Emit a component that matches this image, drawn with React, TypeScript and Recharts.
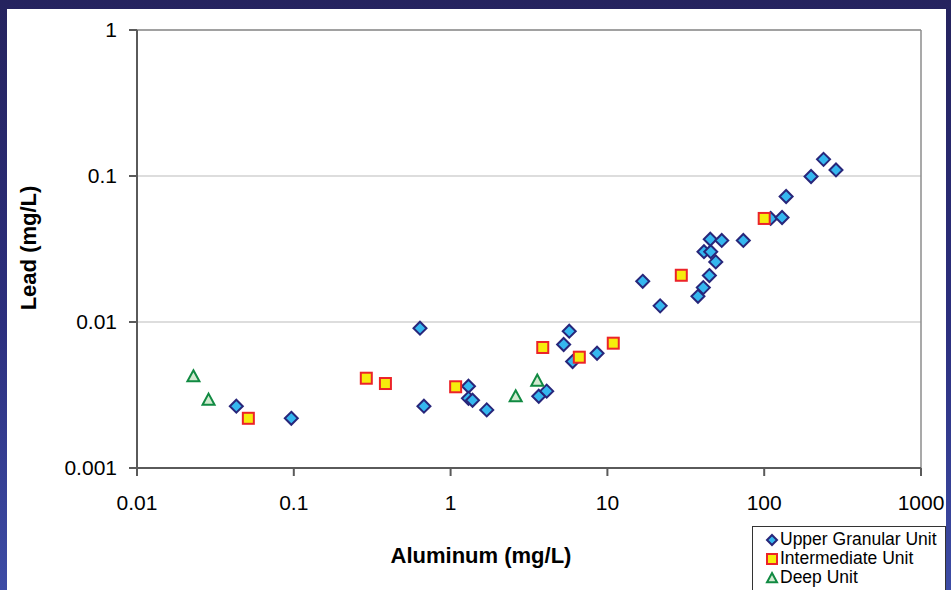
import React from 'react';
import { ScatterChart, Scatter, XAxis, YAxis, CartesianGrid, ReferenceLine, Label } from 'recharts';

// Aluminum (mg/L) vs Lead (mg/L)
const upperAl = [0.043, 0.0964, 0.638, 0.676, 1.3, 1.3, 1.38, 1.7, 3.65, 4.1, 5.71, 5.26, 6.0, 8.59, 16.8, 21.7, 37.8, 40.9, 44.7, 49.1, 41.3, 45.6, 45.3, 53.6, 73.6, 110, 130, 138, 199, 239, 287];
const upperPb = [0.00265, 0.00219, 0.00907, 0.00265, 0.00363, 0.003, 0.00291, 0.0025, 0.0031, 0.00336, 0.00865, 0.00701, 0.00536, 0.00611, 0.019, 0.0129, 0.015, 0.0172, 0.0208, 0.0258, 0.0303, 0.0303, 0.0369, 0.0362, 0.0362, 0.0512, 0.052, 0.0724, 0.0992, 0.13, 0.11];

const interAl = [0.0513, 0.29, 0.384, 1.077, 3.87, 6.62, 10.9, 29.6, 100];
const interPb = [0.00219, 0.00412, 0.00379, 0.0036, 0.00669, 0.00574, 0.00716, 0.0209, 0.0512];

const deepAl = [0.0229, 0.0286, 2.6, 3.57];
const deepPb = [0.00425, 0.00294, 0.0031, 0.00397];

const xTicks = [0.01, 0.1, 1, 10, 100, 1000];
const xTickLabels = ['0.01', '0.1', '1', '10', '100', '1000'];
const yTicks = [0.001, 0.01, 0.1, 1];
const yTickLabels = ['0.001', '0.01', '0.1', '1'];

const seriesNames = ['Upper Granular Unit', 'Intermediate Unit', 'Deep Unit'];

const toData = (xs: number[], ys: number[]) => xs.map((x, i) => ({ x, y: ys[i] }));
const upperData = toData(upperAl, upperPb);
const interData = toData(interAl, interPb);
const deepData = toData(deepAl, deepPb);

const FONT = '"Liberation Sans", Arial, Helvetica, sans-serif';

const Diamond = (props: any) => {
  const { cx, cy } = props;
  const r = props.r ?? 6.5;
  if (cx == null || cy == null) return null;
  return (
    <polygon
      points={`${cx},${cy - r} ${cx + r},${cy} ${cx},${cy + r} ${cx - r},${cy}`}
      fill="#35b7ef"
      stroke="#28267a"
      strokeWidth={2}
    />
  );
};

const Square = (props: any) => {
  const { cx, cy } = props;
  const r = props.r ?? 5.5;
  if (cx == null || cy == null) return null;
  return <rect x={cx - r} y={cy - r} width={2 * r} height={2 * r} fill="#f6ec0c" stroke="#ec2328" strokeWidth={2} />;
};

const Triangle = (props: any) => {
  const { cx, cy } = props;
  const r = props.r ?? 6;
  if (cx == null || cy == null) return null;
  return (
    <polygon
      points={`${cx},${cy - r} ${cx + r},${cy + r * 0.85} ${cx - r},${cy + r * 0.85}`}
      fill="#d2ead0"
      stroke="#118a42"
      strokeWidth={2}
    />
  );
};

const legendShapes = [Diamond, Square, Triangle];

export default function App() {
  return (
    <div style={{ position: 'fixed', left: 0, top: 0, width: 951, height: 590, overflow: 'hidden', background: 'linear-gradient(to bottom, #25235e 0%, #2c2f7e 55%, #3d4ca5 100%)' }}>
      <div style={{ position: 'absolute', left: 7, top: 9, width: 939, height: 581, background: '#ffffff' }} />
      <div style={{ position: 'absolute', left: 0, top: 0 }}>
        <ScatterChart width={951} height={590} margin={{ top: 30, right: 30, left: 0, bottom: 0 }}>
          <CartesianGrid horizontal vertical={false} stroke="#d2d2d2" strokeWidth={1.5} />
          <XAxis
            type="number"
            dataKey="x"
            scale="log"
            domain={[0.01, 1000]}
            ticks={xTicks}
            interval={0}
            allowDataOverflow
            height={122}
            tickSize={8}
            tickMargin={19}
            stroke="#5a5a5a"
            strokeWidth={2}
            tick={{ fontSize: 21, fill: '#000', fontFamily: FONT }}
            tickFormatter={(v: number) => xTickLabels[xTicks.indexOf(v)] ?? String(v)}
          >
            <Label
              content={() => (
                <text x={481} y={563} textAnchor="middle" fontFamily={FONT} fontWeight="bold" fontSize={22} fill="#000">
                  Aluminum (mg/L)
                </text>
              )}
            />
          </XAxis>
          <YAxis
            type="number"
            dataKey="y"
            scale="log"
            domain={[0.001, 1]}
            ticks={yTicks}
            interval={0}
            allowDataOverflow
            width={137}
            tickSize={8}
            tickMargin={12}
            stroke="#5a5a5a"
            strokeWidth={2}
            tick={{ fontSize: 21, fill: '#000', fontFamily: FONT }}
            tickFormatter={(v: number) => yTickLabels[yTicks.indexOf(v)] ?? String(v)}
          >
            <Label
              content={() => (
                <text x={36} y={248} transform="rotate(-90 36 248)" textAnchor="middle" fontFamily={FONT} fontWeight="bold" fontSize={22} fill="#000">
                  Lead (mg/L)
                </text>
              )}
            />
          </YAxis>
          <ReferenceLine y={1} stroke="#8c8c8c" strokeWidth={1.5} />
          <ReferenceLine x={1000} stroke="#8c8c8c" strokeWidth={1.5} />
          <Scatter name={seriesNames[0]} data={upperData} shape={<Diamond />} isAnimationActive={false} />
          <Scatter name={seriesNames[1]} data={interData} shape={<Square />} isAnimationActive={false} />
          <Scatter name={seriesNames[2]} data={deepData} shape={<Triangle />} isAnimationActive={false} />
        </ScatterChart>
      </div>
      <div
        style={{
          position: 'absolute',
          left: 752,
          top: 526,
          width: 194,
          height: 70,
          border: '1px solid #333',
          background: '#fff',
          boxSizing: 'border-box',
          fontFamily: FONT,
          fontSize: 17.5,
          color: '#000',
          paddingTop: 3,
        }}
      >
        {seriesNames.map((n, i) => {
          const Shape = legendShapes[i];
          return (
            <div key={n} style={{ display: 'flex', alignItems: 'center', height: 18.8, lineHeight: '18.8px', whiteSpace: 'nowrap' }}>
              <svg width={26} height={18} style={{ flex: 'none' }}>
                <Shape cx={19} cy={10} r={5} />
              </svg>
              <span style={{ marginLeft: 1 }}>{n}</span>
            </div>
          );
        })}
      </div>
    </div>
  );
}
